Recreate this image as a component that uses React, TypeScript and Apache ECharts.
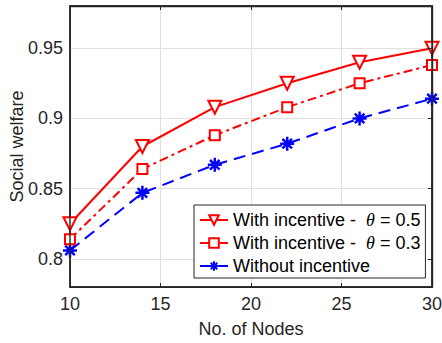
import React, { useEffect, useRef } from "react";
import * as echarts from "echarts";

const xValues = [10, 14, 18, 22, 26, 30];
const theta05 = [0.825, 0.88, 0.908, 0.925, 0.94, 0.95];
const theta03 = [0.814, 0.864, 0.888, 0.908, 0.925, 0.938];
const noIncentive = [0.806, 0.847, 0.867, 0.882, 0.9, 0.914];
const yTicks = [0.8, 0.85, 0.9, 0.95];
const xTicks = [10, 15, 20, 25, 30];
const seriesNames = ["theta05", "theta03", "none"];
const legendLabels: Record<string, string> = {
  theta05: "With incentive -  {th|θ} = 0.5",
  theta03: "With incentive -  {th|θ} = 0.3",
  none: "Without incentive",
};

const FONT = "'Liberation Sans', Arial, Helvetica, sans-serif";
const INK = "#262626";
const GRID = "#e0e0e0";
const ASTERISK = "path://M5,0L5,10M0,5L10,5M1.6,1.6L8.4,8.4M1.6,8.4L8.4,1.6";
const PLOT = { left: 70, right: 10, top: 6, bottom: 56 };
const W = 442;
const H = 343;

export default function App() {
  const ref = useRef<HTMLDivElement>(null);
  useEffect(() => {
    if (!ref.current) return;
    const chart = echarts.init(ref.current, undefined, { renderer: "svg" });
    const pts = (v: number[]) => xValues.map((x, i) => [x, v[i]]);
    chart.setOption({
      animation: false,
      backgroundColor: "#fff",
      grid: {
        ...PLOT,
        outerBoundsMode: "none",
        show: true,
        borderColor: INK,
        borderWidth: 1.4,
      },
      graphic: [
        {
          type: "rect",
          z: 100,
          silent: true,
          shape: {
            x: PLOT.left,
            y: PLOT.top,
            width: W - PLOT.left - PLOT.right,
            height: H - PLOT.top - PLOT.bottom,
          },
          style: { fill: "none", stroke: INK, lineWidth: 1.4 },
        },
      ],
      xAxis: [
        {
          type: "value",
          min: xTicks[0],
          max: xTicks[xTicks.length - 1],
          interval: 5,
          name: "No. of Nodes",
          nameLocation: "middle",
          nameGap: 33,
          nameMoveOverlap: false,
          nameTextStyle: { fontSize: 18, color: INK, fontFamily: FONT },
          axisLine: { show: true, lineStyle: { color: INK, width: 1 } },
          axisTick: { show: true, inside: true, length: 4, lineStyle: { color: INK } },
          axisLabel: { fontSize: 18, color: INK, margin: 8, fontFamily: FONT },
          splitLine: { show: true, lineStyle: { color: GRID, width: 1 } },
        },
        {
          type: "value",
          min: xTicks[0],
          max: xTicks[xTicks.length - 1],
          interval: 5,
          position: "top",
          z: 10,
          axisLabel: { show: false },
          axisTick: { show: true, inside: true, length: 4, lineStyle: { color: INK } },
          axisLine: { show: true, onZero: false, lineStyle: { color: INK, width: 1.4 } },
          splitLine: { show: false },
        },
      ],
      yAxis: [
        {
          type: "value",
          min: 0.78,
          max: 0.98,
          name: "Social welfare",
          nameLocation: "middle",
          nameGap: 44,
          nameMoveOverlap: false,
          nameTextStyle: { fontSize: 18, color: INK, fontFamily: FONT },
          axisLine: { show: true, lineStyle: { color: INK, width: 1 } },
          axisTick: { show: true, inside: true, length: 4, lineStyle: { color: INK }, customValues: yTicks },
          axisLabel: { fontSize: 18, color: INK, margin: 7, fontFamily: FONT, customValues: yTicks },
          splitLine: { show: false },
        },
        {
          type: "value",
          min: 0.78,
          max: 0.98,
          position: "right",
          z: 10,
          axisLabel: { show: false },
          axisTick: { show: true, inside: true, length: 4, lineStyle: { color: INK }, customValues: yTicks },
          axisLine: { show: true, onZero: false, lineStyle: { color: INK, width: 1.4 } },
          splitLine: { show: false },
        },
      ],
      legend: {
        data: seriesNames,
        orient: "vertical",
        left: 194,
        top: 205,
        padding: [6, 5, 3, 5],
        itemGap: 5,
        itemWidth: 28,
        itemHeight: 12,
        backgroundColor: "#fff",
        borderColor: INK,
        borderWidth: 1,
        borderRadius: 0,
        formatter: (n: string) => legendLabels[n],
        textStyle: {
          fontFamily: FONT,
          fontSize: 18,
          lineHeight: 18,
          color: "#000",
          rich: {
            th: {
              fontFamily: "'Liberation Serif', 'Times New Roman', serif",
              fontStyle: "italic",
              fontSize: 18,
              lineHeight: 18,
              color: "#000",
            },
          },
        },
      },
      series: [
        {
          name: "theta05",
          type: "line",
          data: pts(theta05),
          symbol: "triangle",
          symbolRotate: 180,
          symbolSize: 13,
          lineStyle: { color: "#ff0000", width: 2, type: "solid" },
          itemStyle: { color: "#fff", borderColor: "#ff0000", borderWidth: 2 },
          z: 5,
          markLine: {
            silent: true,
            z: 1,
            symbol: "none",
            label: { show: false },
            lineStyle: { color: GRID, width: 1, type: "solid" },
            data: yTicks.map((y) => ({ yAxis: y })),
          },
        },
        {
          name: "theta03",
          type: "line",
          data: pts(theta03),
          symbol: "rect",
          symbolSize: 10,
          lineStyle: { color: "#ff0000", width: 2, type: [9, 4, 3, 4] },
          itemStyle: { color: "#fff", borderColor: "#ff0000", borderWidth: 2 },
          z: 4,
        },
        {
          name: "none",
          type: "line",
          data: pts(noIncentive),
          symbol: ASTERISK,
          symbolSize: 14,
          lineStyle: { color: "#0000ff", width: 2, type: [12, 7] },
          itemStyle: { color: "#0000ff", borderColor: "#0000ff", borderWidth: 2.5 },
          z: 3,
        },
      ],
    });
    return () => chart.dispose();
  }, []);
  return <div ref={ref} style={{ width: W, height: H, position: "absolute", left: 0, top: 0 }} />;
}
